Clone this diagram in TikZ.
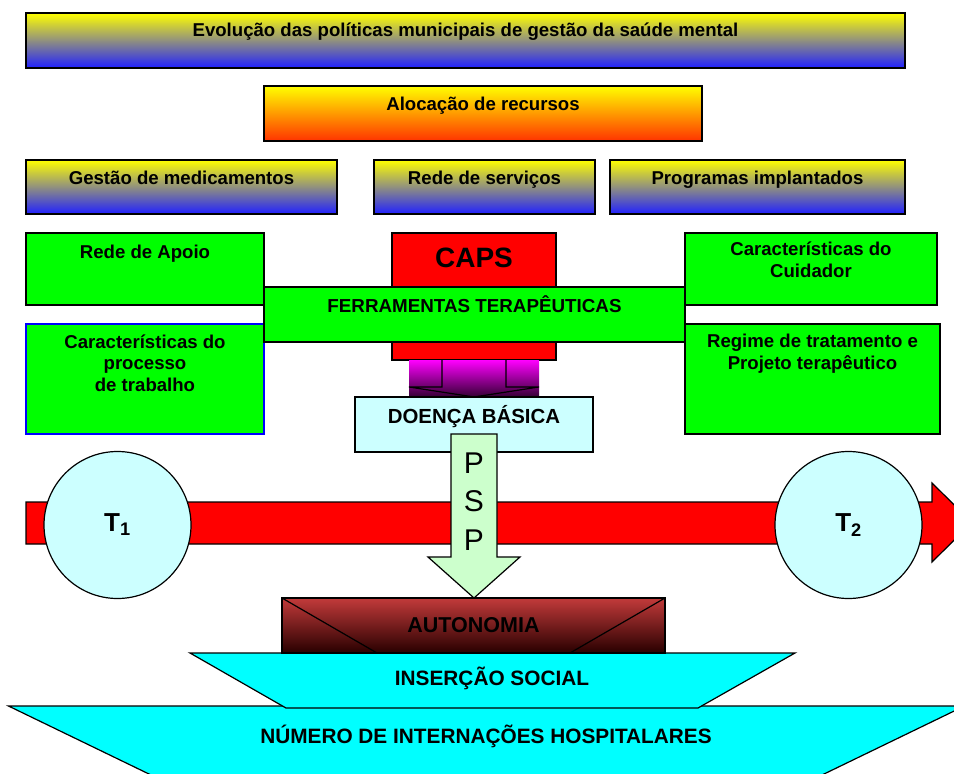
\documentclass[tikz,border=0pt]{standalone}
\usepackage{fontspec}
\setmainfont{Liberation Sans}
\usetikzlibrary{calc}

\definecolor{azul}{RGB}{32,32,255}
\definecolor{laranja}{RGB}{255,51,0}
\definecolor{verde}{RGB}{0,255,0}
\definecolor{roxo}{RGB}{51,0,51}
\definecolor{cianoclaro}{RGB}{204,255,255}
\definecolor{ciano}{RGB}{0,255,255}
\definecolor{verdeclaro}{RGB}{204,255,204}
\definecolor{vinhoclaro}{RGB}{194,58,58}
\definecolor{vinho}{RGB}{40,0,0}

\begin{document}
\begin{tikzpicture}[x=1pt,y=-1pt,
	caixa/.style={draw,line width=1.2pt},
	rot/.style={font=\bfseries\fontsize{18.6}{21.5}\selectfont,align=center,anchor=base,inner sep=0pt},
	maiusc/.style={font=\bfseries\fontsize{20.8}{23}\selectfont,anchor=base,inner sep=0pt},
	tempo/.style={circle,caixa,fill=cianoclaro,minimum size=147pt,inner sep=0pt,font=\bfseries\fontsize{26}{30}\selectfont}]
	\useasboundingbox (0,0) rectangle (954,774);
	\clip (0,0) rectangle (954,774);
	%faixas de cima
	\shadedraw[caixa,top color=yellow,bottom color=azul] (26,13) rectangle (905,68);
	\node[rot] (EV) at (465.5,36) {Evolução das políticas municipais de gestão da saúde mental};
	\shadedraw[caixa,top color=yellow,bottom color=laranja] (264,86) rectangle (702,141);
	\node[rot] (AL) at (483,110) {Alocação de recursos};
	\shadedraw[caixa,top color=yellow,bottom color=azul] (26,160) rectangle (337,214);
	\node[rot] (GM) at (181.5,184) {Gestão de medicamentos};
	\shadedraw[caixa,top color=yellow,bottom color=azul] (374,160) rectangle (595,214);
	\node[rot] (RS) at (484.5,184) {Rede de serviços};
	\shadedraw[caixa,top color=yellow,bottom color=azul] (610,160) rectangle (905,214);
	\node[rot] (PI) at (757.5,184) {Programas implantados};
	%blocos verdes (ancora na ultima linha)
	\filldraw[caixa,fill=verde] (26,233) rectangle (264,305);
	\node[rot] (RA) at (145,258) {Rede de Apoio};
	\filldraw[caixa,fill=verde,draw=blue] (26,324) rectangle (264,434);
	\node[rot] (CP) at (145,391) {Características do\\processo\\de trabalho};
	\filldraw[caixa,fill=verde] (685,233) rectangle (937,305);
	\node[rot] (CC) at (811,277) {Características do\\Cuidador};
	\filldraw[caixa,fill=verde] (685,324) rectangle (940,434);
	\node[rot] (RT) at (812.5,369) {Regime de tratamento e\\Projeto terapêutico};
	%CAPS e ferramentas
	\filldraw[caixa,fill=red] (392,233) rectangle (556,360);
	\node[font=\bfseries\fontsize{28}{30}\selectfont,anchor=base,inner sep=0pt] (CAPS) at (474,267) {CAPS};
	\filldraw[caixa,fill=verde] (264,287) rectangle (685,342);
	\node[maiusc,font=\bfseries\fontsize{18.8}{22}\selectfont] (FT) at (474.5,312) {FERRAMENTAS TERAPÊUTICAS};
	\shade[top color=magenta,bottom color=roxo] (409,360) rectangle (539,397);
	\draw[line width=1.2pt] (442,360) -- (442,387) -- (409,387) -- (474,397) -- (539,387) -- (506,387) -- (506,360);
	\filldraw[caixa,fill=cianoclaro] (355,397) rectangle (593,452);
	\node[maiusc,font=\bfseries\fontsize{20.4}{23}\selectfont] (DB) at (474,423) {DOENÇA BÁSICA};
	%eixo do tempo
	\filldraw[caixa,fill=red] (26,502) -- (932,502) -- (932,483) -- (972,522.5) -- (932,562) -- (932,544) -- (26,544) -- cycle;
	\node[tempo] (T1) at (117.5,525) {T\textsubscript{1}};
	\node[tempo] (T2) at (848.5,525) {T\textsubscript{2}};
	%seta PSP
	\filldraw[caixa,fill=verdeclaro] (451,434) -- (497,434) -- (497,557) -- (520,557) -- (474,598) -- (428,557) -- (451,557) -- cycle;
	\node[font=\fontsize{30}{38.5}\selectfont,align=center,anchor=base,inner sep=0pt] (PSP) at (474,550) {P\\S\\P};
	%base
	\filldraw[caixa,fill=ciano] (8.5,706) -- (964.5,706) -- (791,790) -- (182,790) -- cycle;
	\node[maiusc] (NI) at (486,743) {NÚMERO DE INTERNAÇÕES HOSPITALARES};
	\filldraw[caixa,fill=ciano] (190,653) -- (795,653) -- (698,708) -- (286,708) -- cycle;
	\node[maiusc] (IS) at (492,685) {INSERÇÃO SOCIAL};
	\shadedraw[caixa,top color=vinhoclaro,bottom color=vinho] (282,598) rectangle (665,653);
	\draw[line width=1.2pt] (282,598) -- (377,653) -- (570,653) -- (665,598);
	\node[maiusc,font=\bfseries\fontsize{21.5}{23}\selectfont] (AU) at (473.5,632) {AUTONOMIA};
\end{tikzpicture}
\end{document}
